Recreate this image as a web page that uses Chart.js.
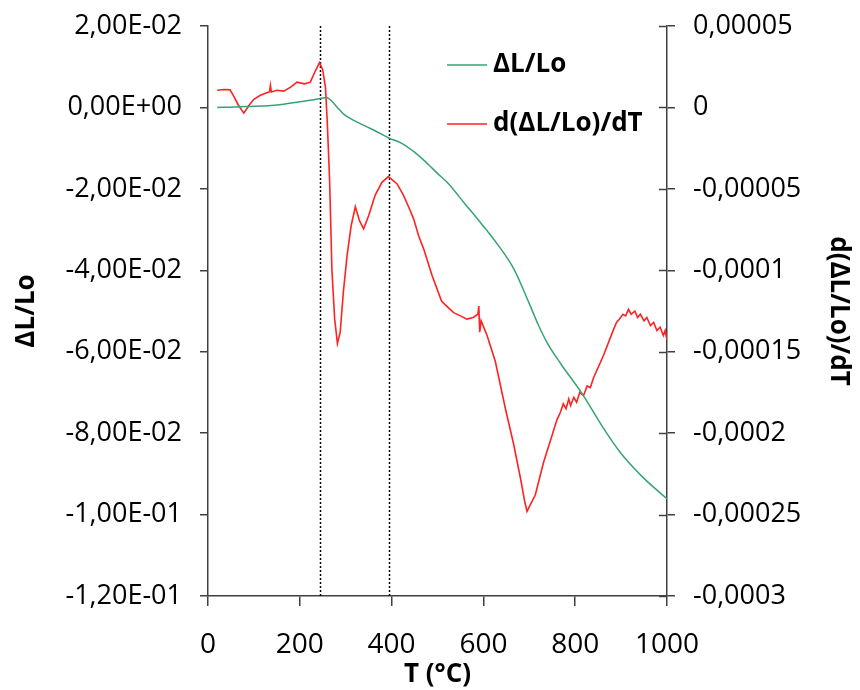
<!DOCTYPE html>
<html>
<head>
<meta charset="utf-8">
<script src="https://cdn.jsdelivr.net/npm/chart.js@4.4.0/dist/chart.umd.min.js"></script>
<style>
  html, body { margin: 0; padding: 0; background: #fff; }
</style>
</head>
<body>
<canvas id="myChart" width="860" height="690"></canvas>
<script>
// ΔL/Lo (left axis)
const tempDL = [20, 60, 100, 130, 160, 200, 230, 250, 258, 266, 275, 285, 295, 310, 325, 345, 365, 394, 420, 450, 480, 500, 521, 560, 593, 630, 666, 700, 720, 740, 770, 815, 860, 900, 940, 970, 1000];
const valDL = [0.0000, 0.0001, 0.0003, 0.0004, 0.0007, 0.0014, 0.0019, 0.0023, 0.0025, 0.0019, 0.0009, -0.0004, -0.0016, -0.0027, -0.0036, -0.0047, -0.0058, -0.0075, -0.0087, -0.0110, -0.0140, -0.0162, -0.0184, -0.0237, -0.0282, -0.0335, -0.0396, -0.0482, -0.0535, -0.0580, -0.0632, -0.0703, -0.0785, -0.0850, -0.0900, -0.0932, -0.0961];

// d(ΔL/Lo)/dT (right axis)
const tempDeriv = [
    20, 35, 48, 56, 66, 78, 90, 100, 114, 128, 134, 136, 138, 150, 165, 180, 194, 210, 223, 234,
    243, 250, 256, 260, 265, 270, 276, 282, 288, 295, 303, 312, 321, 330, 339, 350, 364, 379, 393, 412,
    426, 440, 448, 459, 470, 488, 509, 520, 535, 550, 564, 578, 588, 590, 592, 595, 608, 626, 648, 666,
    681, 690, 695, 702, 713, 731, 750, 760, 768, 774, 780, 786, 790, 797, 803, 810, 818, 826, 833, 840,
    862, 884, 890, 896, 904, 910, 916, 922, 930, 936, 942, 950, 956, 964, 971, 978, 985, 992, 996, 1000];
const valDeriv = [
    1.05e-5, 1.10e-5, 1.08e-5, 7.0e-6, 1.5e-6, -3.5e-6, 1.5e-6, 5.0e-6, 7.5e-6, 9.0e-6, 9.5e-6, 1.35e-5, 9.5e-6, 1.05e-5, 1.0e-5, 1.25e-5, 1.55e-5, 1.45e-5, 1.55e-5, 2.25e-5,
    2.75e-5, 2.3e-5, 1.2e-5, -1.0e-5, -4.5e-5, -1.0e-4, -1.3e-4, -1.45e-4, -1.38e-4, -1.13e-4, -9.1e-5, -7.25e-5, -6.1e-5, -6.95e-5, -7.45e-5, -6.65e-5, -5.4e-5, -4.6e-5, -4.25e-5, -4.7e-5,
    -5.4e-5, -6.3e-5, -6.84e-5, -7.9e-5, -8.7e-5, -1.03e-4, -1.19e-4, -1.22e-4, -1.26e-4, -1.28e-4, -1.30e-4, -1.29e-4, -1.27e-4, -1.22e-4, -1.38e-4, -1.31e-4, -1.40e-4, -1.56e-4, -1.85e-4, -2.07e-4,
    -2.28e-4, -2.42e-4, -2.48e-4, -2.44e-4, -2.38e-4, -2.18e-4, -2.01e-4, -1.92e-4, -1.87e-4, -1.82e-4, -1.85e-4, -1.79e-4, -1.83e-4, -1.78e-4, -1.81e-4, -1.75e-4, -1.77e-4, -1.71e-4, -1.72e-4, -1.66e-4,
    -1.52e-4, -1.36e-4, -1.32e-4, -1.30e-4, -1.27e-4, -1.28e-4, -1.24e-4, -1.27e-4, -1.25e-4, -1.29e-4, -1.27e-4, -1.31e-4, -1.29e-4, -1.34e-4, -1.32e-4, -1.37e-4, -1.35e-4, -1.40e-4, -1.37e-4, -1.43e-4];

// eixos
const xTicks = [0, 200, 400, 600, 800, 1000];
const leftTicks = [0.02, 0, -0.02, -0.04, -0.06, -0.08, -0.10, -0.12];
const rightTicks = [0.00005, 0, -0.00005, -0.0001, -0.00015, -0.0002, -0.00025, -0.0003];
// linhas pontilhadas verticais
const markerTemps = [243, 394];

const fonte = "'Open Sans', sans-serif";
const corEixo = '#404040';

function fmtLeft(v) {
    const s = Number(v.toFixed(6)).toExponential(2);
    const partes = s.split('e');
    const exp = parseInt(partes[1], 10);
    const sinal = exp < 0 ? '-' : '+';
    return partes[0].replace('.', ',') + 'E' + sinal + String(Math.abs(exp)).padStart(2, '0');
}
function fmtRight(v) {
    return Number(v.toFixed(6)).toString().replace('.', ',');
}
// largura fixa e sem padding extra em cima/baixo
function fixY(w) {
    return s => { s.width = w; s.paddingTop = 0; s.paddingBottom = 0; };
}

const extras = {
    id: 'extras',
    beforeDatasetsDraw(chart) {
        const ctx = chart.ctx;
        const area = chart.chartArea;
        const x = chart.scales.x;
        ctx.save();
        ctx.strokeStyle = '#000';
        ctx.lineWidth = 1.5;
        ctx.setLineDash([2, 2]);
        markerTemps.forEach(t => {
            const px = Math.round(x.getPixelForValue(t)) + 0.5;
            ctx.beginPath();
            ctx.moveTo(px, area.top);
            ctx.lineTo(px, area.bottom);
            ctx.stroke();
        });
        ctx.restore();
    },
    afterDraw(chart) {
        const ctx = chart.ctx;
        const area = chart.chartArea;
        const y1 = chart.scales.y1;
        ctx.save();
        // ticks do eixo direito cruzam a linha
        ctx.strokeStyle = corEixo;
        ctx.lineWidth = 1.5;
        rightTicks.forEach(v => {
            const py = Math.round(y1.getPixelForValue(v)) + 0.5;
            ctx.beginPath();
            ctx.moveTo(area.right - 8, py);
            ctx.lineTo(area.right, py);
            ctx.stroke();
        });
        // legenda
        const lx = area.left + 239;
        const ly = [area.top + 39, area.top + 98];
        ctx.font = 'bold 26px ' + fonte;
        ctx.textBaseline = 'middle';
        ctx.textAlign = 'left';
        chart.data.datasets.forEach((ds, i) => {
            ctx.strokeStyle = ds.borderColor;
            ctx.lineWidth = 1.5;
            ctx.beginPath();
            ctx.moveTo(lx, ly[i]);
            ctx.lineTo(lx + 40, ly[i]);
            ctx.stroke();
            ctx.fillStyle = '#000';
            ctx.fillText(ds.label, lx + 46, ly[i]);
        });
        ctx.restore();
    }
};

new Chart('myChart', {
    type: 'line',
    data: {
        datasets: [{
            label: 'ΔL/Lo',
            data: tempDL.map((t, i) => ({ x: t, y: valDL[i] })),
            yAxisID: 'y',
            borderColor: '#38a372',
            borderWidth: 1.5,
            pointRadius: 0,
            cubicInterpolationMode: 'monotone'
        }, {
            label: 'd(ΔL/Lo)/dT',
            data: tempDeriv.map((t, i) => ({ x: t, y: valDeriv[i] })),
            yAxisID: 'y1',
            borderColor: '#ff2222',
            borderWidth: 1.6,
            pointRadius: 0,
            tension: 0
        }]
    },
    options: {
        responsive: false,
        animation: false,
        devicePixelRatio: 1,
        layout: { padding: { top: 26, left: 0, right: 0, bottom: 0 } },
        plugins: {
            legend: { display: false },
            tooltip: { enabled: false }
        },
        scales: {
            x: {
                type: 'linear',
                min: 0,
                max: 1000,
                afterBuildTicks: s => { s.ticks = xTicks.map(v => ({ value: v })); },
                afterFit: s => { s.height = 94; },
                ticks: { font: { family: fonte, size: 28 }, color: '#000', padding: 22, maxRotation: 0, autoSkip: false, callback: v => String(v) },
                grid: { drawOnChartArea: false, tickLength: 10, color: corEixo, lineWidth: 1.5 },
                border: { color: corEixo, width: 1.5 },
                title: { display: true, text: 'T (°C)', color: '#000', font: { family: fonte, size: 26, weight: 'bold' }, padding: { top: 0, bottom: 0 } }
            },
            y: {
                position: 'left',
                min: -0.12,
                max: 0.02,
                afterBuildTicks: s => { s.ticks = leftTicks.map(v => ({ value: v })); },
                afterFit: fixY(208),
                ticks: { font: { family: fonte, size: 27 }, color: '#000', padding: 18, callback: v => fmtLeft(v) },
                grid: { drawOnChartArea: false, tickLength: 8, color: corEixo, lineWidth: 1.5 },
                border: { color: corEixo, width: 1.5 },
                title: { display: true, text: 'ΔL/Lo', color: '#000', font: { family: fonte, size: 26, weight: 'bold' }, padding: { top: 11, bottom: 0 } }
            },
            y1: {
                position: 'right',
                min: -0.0003,
                max: 0.00005,
                afterBuildTicks: s => { s.ticks = rightTicks.map(v => ({ value: v })); },
                afterFit: fixY(193),
                ticks: { font: { family: fonte, size: 27 }, color: '#000', padding: 18, callback: v => fmtRight(v) },
                grid: { drawOnChartArea: false, tickLength: 8, color: corEixo, lineWidth: 1.5 },
                border: { color: corEixo, width: 1.5 },
                title: { display: true, text: 'd(ΔL/Lo)/dT', color: '#000', font: { family: fonte, size: 26, weight: 'bold' }, padding: { top: 6, bottom: 0 } }
            }
        }
    },
    plugins: [extras]
});
</script>
</body>
</html>
